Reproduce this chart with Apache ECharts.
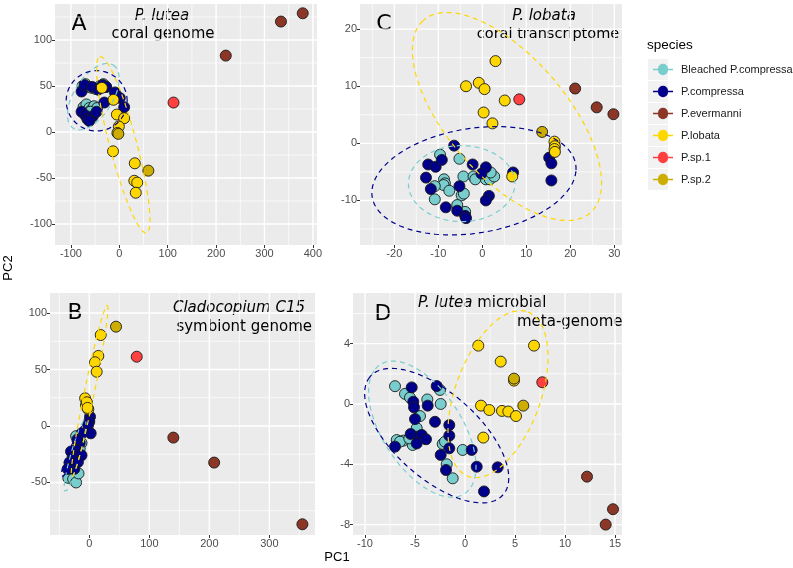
<!DOCTYPE html>
<html>
<head>
<meta charset="utf-8">
<script src="https://cdn.jsdelivr.net/npm/echarts@6/dist/echarts.min.js"></script>
<style>
  html, body { margin: 0; padding: 0; background: #fff; }
  #chart { width: 793px; height: 568px; }
</style>
</head>
<body>
<div id="chart"></div>
<script>
const species = ["Bleached P.compressa", "P.compressa", "P.evermanni", "P.lobata", "P.sp.1", "P.sp.2"];
const speciesColors = ["#79CDCD", "#00008B", "#8B3626", "#FFD700", "#FF4040", "#CDAD00"];

// Panel A - P. lutea coral genome
const aBleached = [[-76,50],[-70,52],[-64,49],[-57,48],[-50,47],[-40,50],[-33,52],[-28,49],[-74,27],[-68,30],[-62,26],[-58,24],[-52,28],[-46,26],[-66,20],[-55,18],[-60,22]];
const aCompressa = [[-78,44],[-72,51],[-56,49],[-34,51],[-27,49],[-78,22],[-70,18],[-66,14],[-55,17],[-47,22],[-31,32],[-9,43],[1,37],[10,27],[-62,12],[-44,46]];
const aEvermanni = [[379,129],[334,120],[220,83]];
const aLobata = [[-36,48],[-12,35],[-5,19],[10,15],[-1,6],[-4,-1],[-13,-21],[32,-34],[31,-53],[37,-55],[34,-66]];
const aSp1 = [[112,32]];
const aSp2 = [[60,-42],[-2,-2]];
// ellipses: [species index, cx, cy, ux, uy, vx, vy]
const aEllipses = [[0,-53.7,38.4,41.3,34.4,34,-11],[1,-46.8,33.9,63,0,0,32.8],[3,8.2,-14,-48.2,96,27,3.7]];

// Panel C - P. lobata coral transcriptome
const cBleached = [[-9.6,-2.0],[-5.2,-2.7],[-8.7,-6.3],[-8.5,-7.0],[-8.8,-7.3],[-10.8,-7.5],[-7.5,-8.3],[-10.8,-9.8],[-4.3,-5.8],[-4.7,-9.1],[-4.2,-8.8],[-5.7,-10.8],[-3.9,-12.0],[-2.0,-5.8],[-1.6,-6.3],[0.8,-6.3],[1.7,-6.3],[2.7,-5.8],[1.9,-5.1]];
const cCompressa = [[-6.4,-0.4],[-2.2,-3.7],[0.8,-4.2],[-0.2,-5.3],[15.2,-2.5],[15.7,-3.5],[15.7,-6.5],[-12.3,-3.7],[-10.6,-4.1],[-9.2,-2.9],[-12.8,-6.0],[-11.7,-8.0],[-8.3,-11.2],[-5.2,-7.5],[-5.7,-11.8],[-3.9,-12.7],[-3.7,-13.1],[1.5,-9.2],[0.8,-10.0],[7.0,-5.1]];
const cEvermanni = [[21.1,9.6],[26,6.3],[29.8,5.1]];
const cLobata = [[3.0,14.4],[-3.7,10.0],[-0.8,10.6],[0.5,9.5],[5.1,7.5],[0.3,5.4],[2.3,3.5],[16.4,0.3],[16.5,-0.5],[16.4,-1.0],[16.5,-1.5],[6.8,-5.8]];
const cSp1 = [[8.4,7.7]];
const cSp2 = [[13.6,2.0]];
const cEllipses = [[0,-4.7,-7.05,12.1,0,0,6.65],[1,-1.9,-6.55,23.2,1.9,0.5,9.3],[3,5.6,4.7,-19.3,16.6,9.5,7.5]];

// Panel B - Cladocopium C15 symbiont genome
const bBleached = [[-35,-46],[-27,-47],[-22,-50],[-18,-42],[-13,-15],[-19,-23],[-22,-9],[-25,-30],[-30,-36],[-16,-20]];
const bCompressa = [[1.2,8.2],[0,3.8],[-2,1],[2.3,-6.5],[-12.7,-6.5],[-16,-15],[-22,-21],[-30.5,-22.6],[-28,-28],[-33,-32.5],[-25,-38],[-13,-26],[-19,-32],[-36,-38],[-20,-12]];
const bEvermanni = [[140,-10.3],[208,-32.4],[355,-87]];
const bLobata = [[19,80.5],[15,62],[9.5,56.4],[12.3,48],[-7,24.5],[-5.5,18.6],[-1.7,14.8],[-4,21],[-3,16]];
const bSp1 = [[79,61.3]];
const bSp2 = [[44.5,87.9]];
const bEllipses = [[0,-23.8,-26.4,16.7,31.7,7.2,-1.07],[1,-22.4,-18.4,23.6,26.6,6.8,-1.7],[3,0.5,31,29.5,76,8.1,-0.93]];

// Panel D - P. lutea microbial meta-genome
const dBleached = [[-7,1.18],[-6,0.67],[-5.5,0.42],[-3.77,0.3],[-2.43,0],[-2.5,0.93],[-4.5,-0.8],[-4.83,-1.6],[-6.83,-2.39],[-6.17,-2.43],[-6.5,-2.5],[-5.23,-2.72],[-2.23,-2.65],[-2,-2.5],[-1.83,-4],[-1.23,-4.93],[-0.23,-3.05],[-5.57,-2.28]];
const dCompressa = [[-5.33,1.1],[-2.83,1.19],[-5.17,0.15],[-5.1,-0.22],[-3.73,-0.11],[-5,-1.0],[-3,-1.18],[-1.57,-1.4],[-7,-2.83],[-5.43,-1.99],[-4.67,-2.16],[-4.33,-2.05],[-3.9,-2.34],[-4.83,-2.62],[-1.57,-2.1],[-1.57,-2.94],[-2.43,-3.38],[-1.9,-4.38],[0.67,-3.05],[1.17,-4.16],[3.27,-4.2],[1.9,-5.8]];
const dEvermanni = [[12.2,-4.82],[14.8,-6.98],[14.07,-8.0]];
const dLobata = [[1.33,3.87],[6.9,3.87],[3.57,2.81],[4.9,1.55],[1.6,-0.11],[2.43,-0.4],[3.7,-0.46],[4.33,-0.5],[5.1,-0.8],[1.83,-2.23]];
const dSp1 = [[7.73,1.44]];
const dSp2 = [[5.83,-0.11],[4.9,1.68]];
const dEllipses = [[0,-4.27,-1.67,-4.7,4.0,2.6,2.1],[1,-2.83,-2.1,-6.83,3.76,2.3,2.4],[3,3.3,0.65,3.0,5.45,4.0,-1.0]];

// tick labels
const aXTicks = [-100, 0, 100, 200, 300, 400];
const aYTicks = [-100, -50, 0, 50, 100];
const cXTicks = [-20, -10, 0, 10, 20, 30];
const cYTicks = [-10, 0, 10, 20];
const bXTicks = [0, 100, 200, 300];
const bYTicks = [-50, 0, 50, 100];
const dXTicks = [-10, -5, 0, 5, 10, 15];
const dYTicks = [-8, -4, 0, 4];

const panels = [
  { grid: { left: 55, top: 4, width: 262, height: 241 }, xr: [-132.9, 408.5], yr: [-122.8, 139.1],
    xt: aXTicks, yt: aYTicks, pts: [aBleached, aCompressa, aEvermanni, aLobata, aSp1, aSp2], ell: aEllipses },
  { grid: { left: 360, top: 4, width: 262, height: 241 }, xr: [-27.8, 31.75], yr: [-17.8, 24.4],
    xt: cXTicks, yt: cYTicks, pts: [cBleached, cCompressa, cEvermanni, cLobata, cSp1, cSp2], ell: cEllipses },
  { grid: { left: 50, top: 293, width: 265, height: 242 }, xr: [-65.5, 376], yr: [-96.5, 117.7],
    xt: bXTicks, yt: bYTicks, pts: [bBleached, bCompressa, bEvermanni, bLobata, bSp1, bSp2], ell: bEllipses },
  { grid: { left: 353, top: 293, width: 269, height: 242 }, xr: [-11.2, 15.7], yr: [-8.69, 7.36],
    xt: dXTicks, yt: dYTicks, pts: [dBleached, dCompressa, dEvermanni, dLobata, dSp1, dSp2], ell: dEllipses }
];

function minorOf(ticks, range) {
  const step = ticks[1] - ticks[0];
  const out = [];
  for (let v = ticks[0] - step / 2; v <= range[1]; v += step) {
    if (v >= range[0]) out.push(v);
  }
  return out;
}

function ellipsePath(e) {
  const pts = [];
  for (let i = 0; i <= 120; i++) {
    const t = (i / 120) * Math.PI * 2;
    pts.push([e[1] + e[3] * Math.cos(t) + e[5] * Math.sin(t), e[2] + e[4] * Math.cos(t) + e[6] * Math.sin(t)]);
  }
  return pts;
}

// white panel grid lines, one line series per panel and weight
function gridLines(xv, yv, xr, yr) {
  const d = [];
  xv.forEach((v) => { d.push([v, yr[0]], [v, yr[1]], ["-", "-"]); });
  yv.forEach((v) => { d.push([xr[0], v], [xr[1], v], ["-", "-"]); });
  return d;
}

function axis(gi, range, ticks) {
  return {
    type: "value", gridIndex: gi, min: range[0], max: range[1],
    axisLine: { show: false, onZero: false },
    axisTick: { show: true, length: 3, lineStyle: { color: "#333" }, customValues: ticks },
    axisLabel: { show: true, customValues: ticks, color: "#4d4d4d", fontSize: 11, margin: 3, fontFamily: "Liberation Sans" },
    splitLine: { show: false },
    minorTick: { show: false }, minorSplitLine: { show: false }
  };
}

const grids = [], xAxes = [], yAxes = [], series = [];
const graphics = [];
panels.forEach((p, i) => {
  grids.push(Object.assign({ show: false }, p.grid));
  graphics.push({ type: "rect", z: -10, shape: { x: p.grid.left, y: p.grid.top, width: p.grid.width, height: p.grid.height }, style: { fill: "#EBEBEB" } });
  xAxes.push(axis(i, p.xr, p.xt));
  yAxes.push(axis(i, p.yr, p.yt));
  series.push({
    type: "line", name: "minor grid", xAxisIndex: i, yAxisIndex: i, z: 0, silent: true,
    data: gridLines(minorOf(p.xt, p.xr), minorOf(p.yt, p.yr), p.xr, p.yr),
    showSymbol: false, symbol: "none", connectNulls: false,
    lineStyle: { color: "#ffffff", width: 0.7 }
  });
  series.push({
    type: "line", name: "major grid", xAxisIndex: i, yAxisIndex: i, z: 0, silent: true,
    data: gridLines(p.xt, p.yt, p.xr, p.yr),
    showSymbol: false, symbol: "none", connectNulls: false,
    lineStyle: { color: "#ffffff", width: 1.4 }
  });
  p.pts.forEach((data, s) => {
    series.push({
      type: "scatter", name: species[s], xAxisIndex: i, yAxisIndex: i,
      data: data, symbolSize: 11, z: 2, silent: true,
      itemStyle: { color: speciesColors[s], borderColor: "#1a1a1a", borderWidth: 0.9, opacity: 1 }
    });
  });
  p.ell.forEach((e) => {
    series.push({
      type: "line", name: "ellipse", xAxisIndex: i, yAxisIndex: i,
      data: ellipsePath(e), showSymbol: false, symbol: "none", z: 3, silent: true, clip: true,
      lineStyle: { color: speciesColors[e[0]], width: 1.2, type: [5, 4] }
    });
  });
});

const ann = { fontFamily: "DejaVu Sans", fontSize: 15, fill: "#000" };
function txt(x, y, text, extra) {
  return { type: "text", x: x, y: y, style: Object.assign({ text: text, align: "center", verticalAlign: "middle" }, ann, extra || {}) };
}

graphics.push(
  txt(79, 24, "A", { fontSize: 22 }),
  txt(162, 16, "P. lutea", { fontStyle: "italic" }),
  txt(163, 34, "coral genome"),
  txt(384, 24, "C", { fontSize: 22 }),
  txt(544, 16, "P. lobata", { fontStyle: "italic" }),
  txt(548, 34, "coral transcriptome", { fontSize: 14.5 }),
  txt(75, 313, "B", { fontSize: 22 }),
  txt(305, 308, "Cladocopium C15", { fontStyle: "italic", align: "right" }),
  txt(312, 327, "symbiont genome", { align: "right" }),
  txt(383, 314, "D", { fontSize: 22 }),
  { type: "text", x: 418, y: 303, style: Object.assign({ text: "{i|P. lutea} microbial", align: "left", verticalAlign: "middle",
      rich: { i: { fontStyle: "italic", fontFamily: "DejaVu Sans", fontSize: 15 } } }, ann) },
  txt(517, 322, "meta-genome", { align: "left" }),
  txt(337, 557, "PC1", { fontFamily: "Liberation Sans", fontSize: 13 }),
  { type: "text", x: 8, y: 268, rotation: Math.PI / 2,
    style: { text: "PC2", align: "center", verticalAlign: "middle", fontFamily: "Liberation Sans", fontSize: 13, fill: "#000" } },
  { type: "text", x: 647, y: 45, style: { text: "species", align: "left", verticalAlign: "middle", fontFamily: "Liberation Sans", fontSize: 13.5, fill: "#000" } }
);
species.forEach((s, k) => {
  graphics.push({ type: "rect", z: -1, shape: { x: 648, y: 59 + k * 22, width: 20, height: 21 }, style: { fill: "#F2F2F2" } });
});

const chart = echarts.init(document.getElementById("chart"));
chart.setOption({
  animation: false,
  backgroundColor: "#fff",
  grid: grids,
  xAxis: xAxes,
  yAxis: yAxes,
  series: series,
  legend: {
    data: species, orient: "vertical", left: 648, top: 57.5,
    itemWidth: 20, itemHeight: 14, itemGap: 8,
    icon: "path://M0,4.3H5A5,5 0 0 1 15,4.3H20V5.7H15A5,5 0 0 1 5,5.7H0Z",
    itemStyle: { borderWidth: 0 },
    textStyle: { fontFamily: "Liberation Sans", fontSize: 11, color: "#1a1a1a", lineHeight: 14, padding: [0, 0, 0, 3] },
    selectedMode: false
  },
  graphic: graphics
});
</script>
</body>
</html>
